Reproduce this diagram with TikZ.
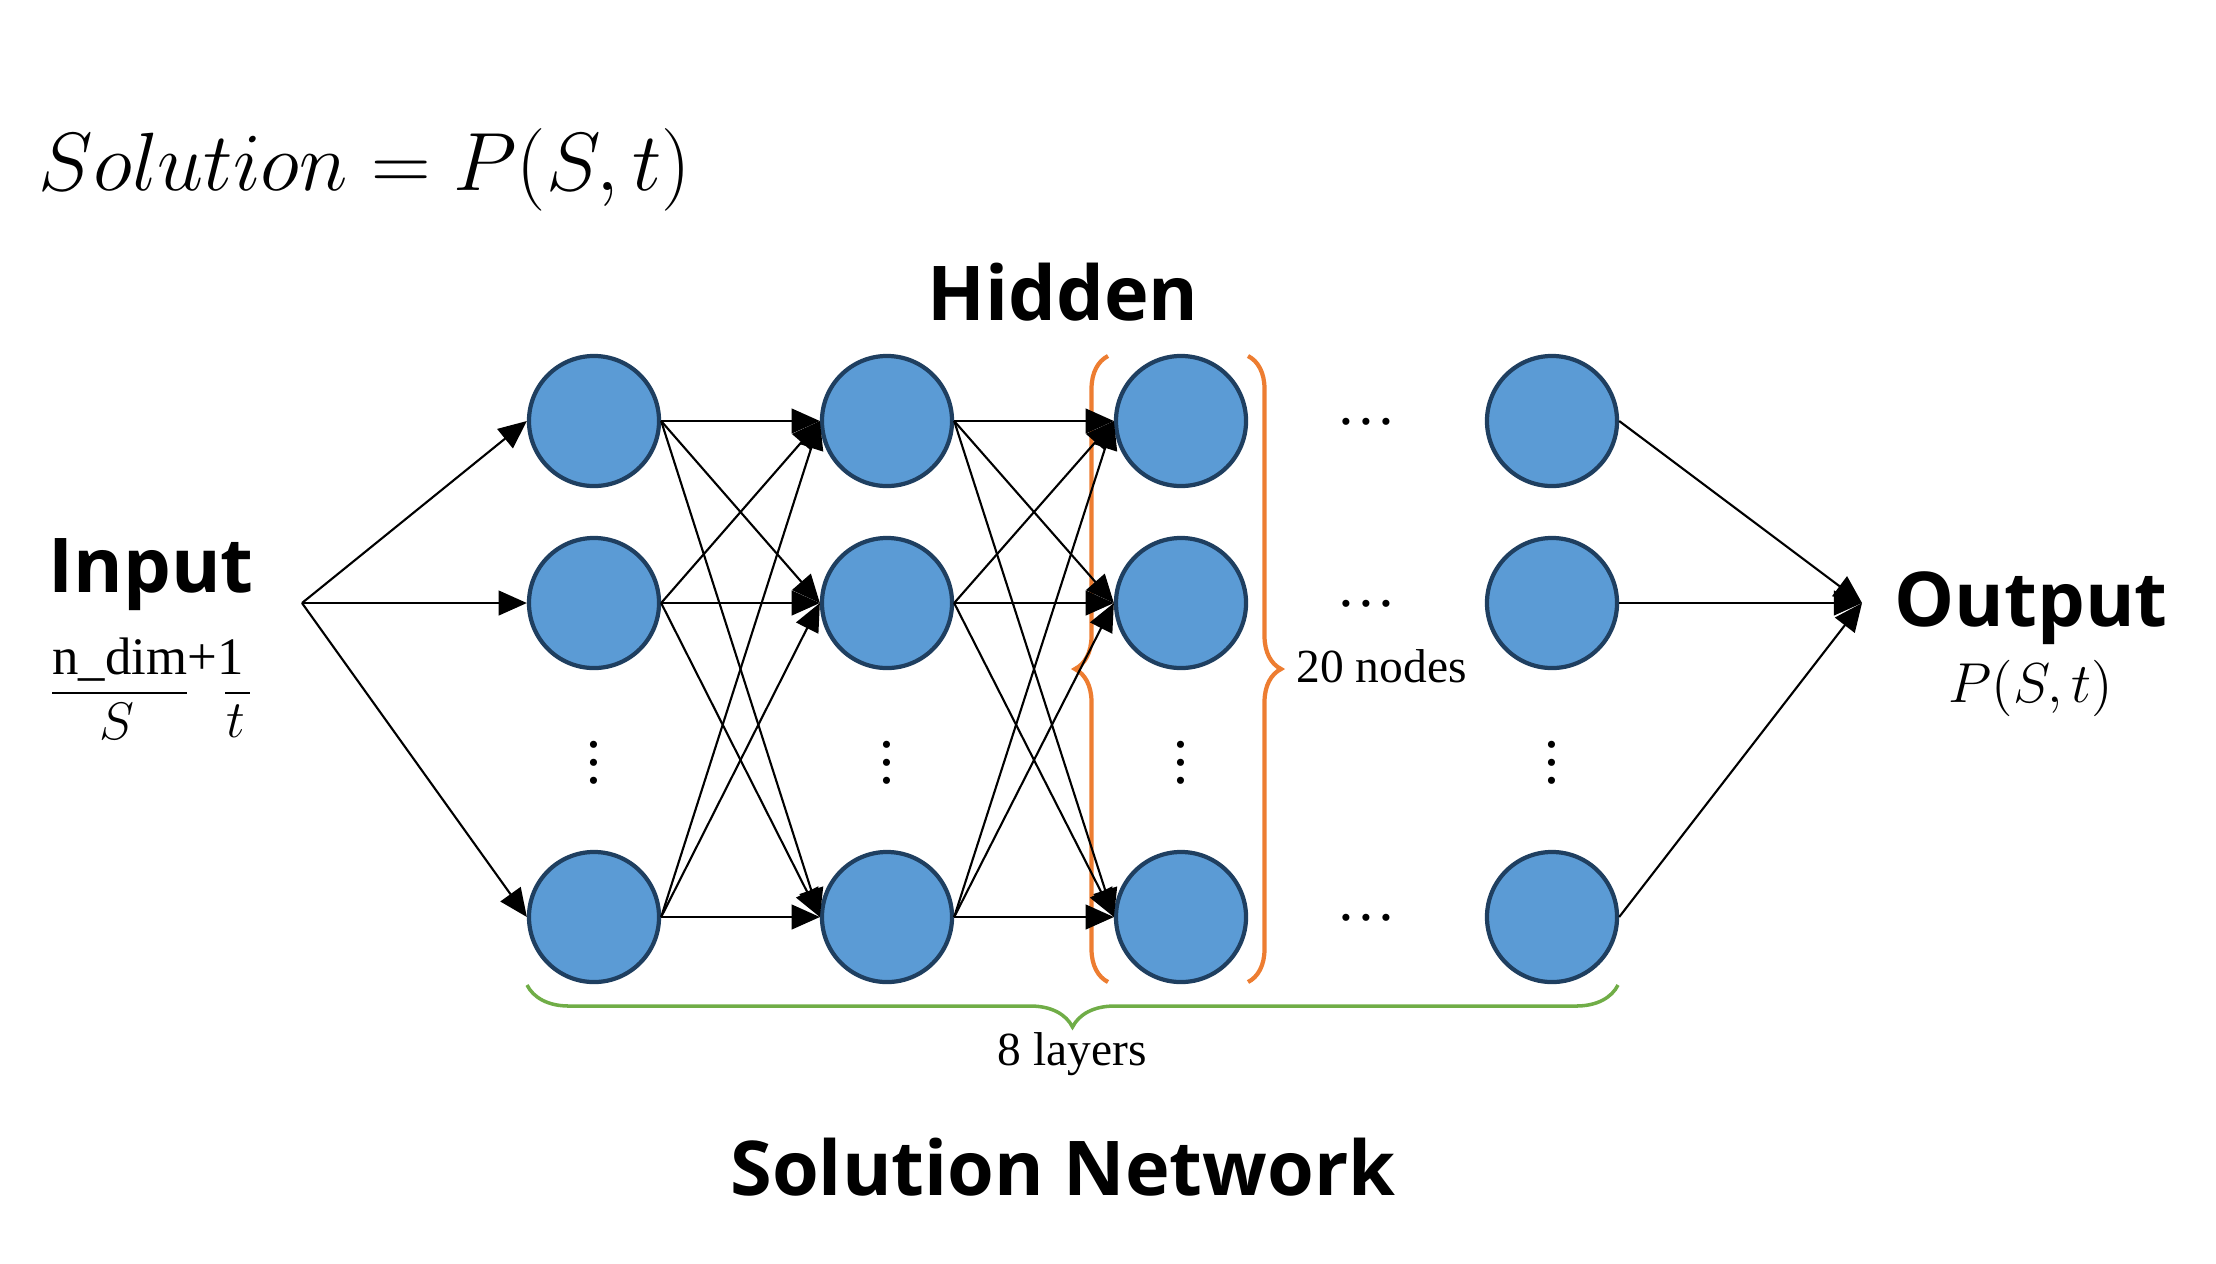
\documentclass[tikz,border=0pt]{standalone}
\usepackage{fix-cm}
\usepackage{fontspec}
\setmainfont{Liberation Serif}
\newfontfamily\headfont{Open Sans}
\usetikzlibrary{arrows.meta, decorations.pathreplacing}
\definecolor{NeuronBlue}{RGB}{91,155,213}
\definecolor{NeuronEdge}{RGB}{31,63,96}
\definecolor{BraceOrange}{RGB}{237,125,49}
\definecolor{BraceGreen}{RGB}{112,173,71}
\newcommand{\vdotsx}{\vbox{\baselineskip=5.2pt\lineskiplimit=0pt\hbox{.}\hbox{.}\hbox{.}}}

\begin{document}
\begin{tikzpicture}[
        x=0.01cm, y=-0.01cm,
        neuron/.style={circle, minimum size=1.3cm, inner sep=0pt, draw=NeuronEdge, fill=NeuronBlue, line width=1.2pt},
        title/.style={font=\headfont\bfseries\fontsize{21.5}{26}\selectfont},
        note/.style={font=\fontsize{13.5}{16}\selectfont},
        dotsnode/.style={font=\fontsize{17}{20}\selectfont, inner sep=0pt},
        arrow/.style={line width=0.6pt, -{Triangle[length=8pt, width=7pt]}},
        curly/.style={line width=1.2pt, decorate, decoration={brace, amplitude=#1}}
    ]
        \useasboundingbox (0,0) rectangle (2216,1263);

        % headings
        \node (formula) [anchor=west, inner sep=0pt] at (38,170) {\fontsize{23.5}{28}\selectfont $Solution = P(S,t)$};
        \node (hidden) [title] at (1063,292) {Hidden};
        \node (network) [title] at (1063,1167) {Solution Network};

        % neurons
        \foreach \c/\x in {1/594, 2/887, 3/1181, 4/1552} {
            \foreach \r/\y in {1/421, 2/603, 3/917}
                \node (n\c\r) [neuron] at (\x,\y) {};
            \node (v\c) [dotsnode] at (\x,763) {\vdotsx};
        }
        \foreach \r/\y in {1/424, 2/606, 3/920}
            \node (h\r) [dotsnode, anchor=base] at (1366,\y) {\dots};

        % input / output
        \node (input) [title] at (151,575) {Input};
        \node (indim) [anchor=base, inner sep=0pt, font=\fontsize{15}{18}\selectfont] at (148,674) {n\_dim+1};
        \node (inS) [inner sep=0pt, font=\fontsize{15}{18}\selectfont] at (117,721) {$S$};
        \node (int) [inner sep=0pt, font=\fontsize{15}{18}\selectfont] at (236,721) {$t$};
        \draw [line width=0.6pt] (52,693) -- (187,693);
        \draw [line width=0.6pt] (225,693) -- (250,693);
        \coordinate (in) at (302,603);
        \node (output) [title] at (2031,608) {Output};
        \node (outP) [font=\fontsize{16}{19}\selectfont] at (2031,688) {$P(S,t)$};
        \coordinate (out) at (1862,603);

        % braces
        \draw [curly=0.33cm, BraceOrange] (1108,982) -- (1108,356);
        \draw [curly=0.33cm, BraceOrange] (1248,356) -- (1248,982);
        \node (nodes) [note, anchor=west] at (1284,666) {20 nodes};
        \draw [curly=0.42cm, BraceGreen, line width=1pt] (1618,985) -- (527,985);
        \node (layers) [note] at (1072,1054) {8 layers};

        % connections
        \foreach \r in {1,2,3} {
            \draw [arrow] (in) -- (n1\r.west);
            \draw [arrow] (n4\r.east) -- (out);
            \foreach \s in {1,2,3} {
                \draw [arrow] (n1\r.east) -- (n2\s.west);
                \draw [arrow] (n2\r.east) -- (n3\s.west);
            }
        }
    \end{tikzpicture}
\end{document}
